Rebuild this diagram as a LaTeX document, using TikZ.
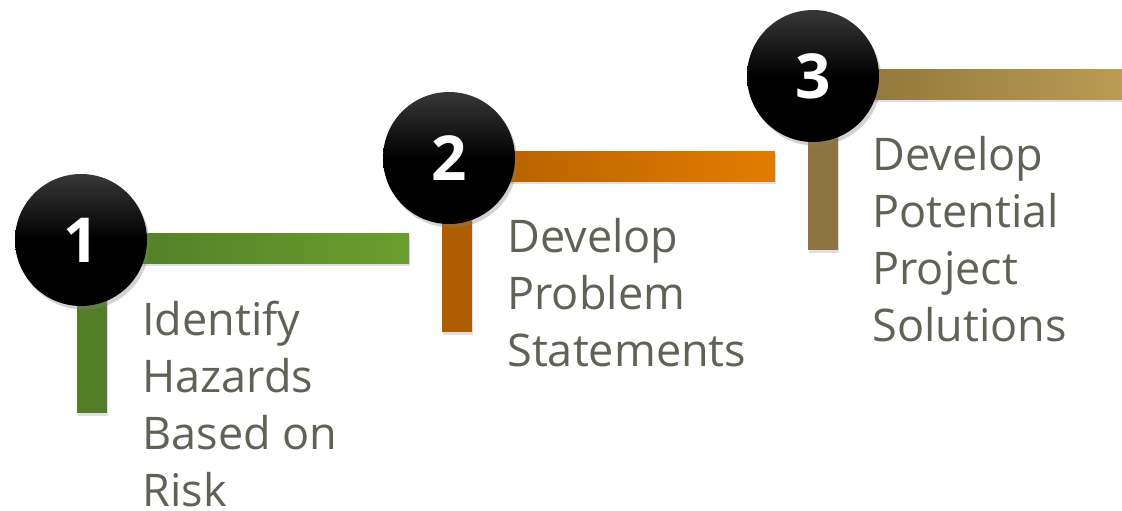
\documentclass[tikz,border=0pt]{standalone}
\usepackage{fontspec}
\setmainfont{Open Sans}
\usetikzlibrary{shadows,calc,positioning}
\definecolor{StepGreenL}{RGB}{78,122,38}
\definecolor{StepGreenR}{RGB}{106,159,46}
\definecolor{StepGreenV}{RGB}{83,126,39}
\definecolor{StepOrangeL}{RGB}{176,94,0}
\definecolor{StepOrangeR}{RGB}{226,124,0}
\definecolor{StepOrangeV}{RGB}{174,94,0}
\definecolor{StepGoldL}{RGB}{138,112,56}
\definecolor{StepGoldR}{RGB}{187,155,84}
\definecolor{StepGoldV}{RGB}{141,116,64}
\definecolor{TextGray}{RGB}{94,99,86}

\begin{document}
\begin{tikzpicture}[x=0.5pt, y=-0.5pt,
	num/.style={circle, top color=black!78, bottom color=black, middle color=black,
		minimum size=66pt, inner sep=0pt, text=white,
		font=\fontsize{31}{31}\selectfont\bfseries,
		drop shadow={opacity=0.35, shadow xshift=1.2pt, shadow yshift=-1.8pt}},
	bar/.style={drop shadow={opacity=0.25, shadow xshift=0.4pt, shadow yshift=-1.4pt}},
	txt/.style={anchor=base west, align=left, inner sep=0pt, text=TextGray,
		font=\fontsize{22.5}{28.5}\selectfont}]
	\useasboundingbox (0,0) rectangle (1122,510);
	% step positions
	\coordinate (c1) at (81,240);
	\coordinate (c2) at (449,158);
	\coordinate (c3) at (813,76);
	\coordinate (h1) at (409,263); \coordinate (v1) at (107,413);
	\coordinate (h2) at (775,181); \coordinate (v2) at (472,332);
	\coordinate (h3) at (1122,99); \coordinate (v3) at (838,250);
	% bars
	\path[bar, fill=StepGreenV] ($(c1)+(-4,0)$) rectangle (v1);
	\path[bar, left color=StepGreenL, right color=StepGreenR] ($(c1)+(0,-7)$) rectangle (h1);
	\path[bar, fill=StepOrangeV] ($(c2)+(-7,0)$) rectangle (v2);
	\path[bar, left color=StepOrangeL, right color=StepOrangeR] ($(c2)+(0,-7)$) rectangle (h2);
	\path[bar, fill=StepGoldV] ($(c3)+(-5,0)$) rectangle (v3);
	\path[bar, left color=StepGoldL, right color=StepGoldR] ($(c3)+(0,-7)$) rectangle (h3);
	% circles
	\node[num] (n1) at (c1) {1};
	\node[num] (n2) at (c2) {2};
	\node[num] (n3) at (c3) {3};
	% labels (anchored at the baseline of the last line)
	\node[txt] (t1) at (142,506) {Identify\\Hazards\\Based on\\Risk};
	\node[txt] (t2) at (507,366) {Develop\\Problem\\Statements};
	\node[txt] (t3) at (872,341) {Develop\\Potential\\Project\\Solutions};
\end{tikzpicture}
\end{document}
